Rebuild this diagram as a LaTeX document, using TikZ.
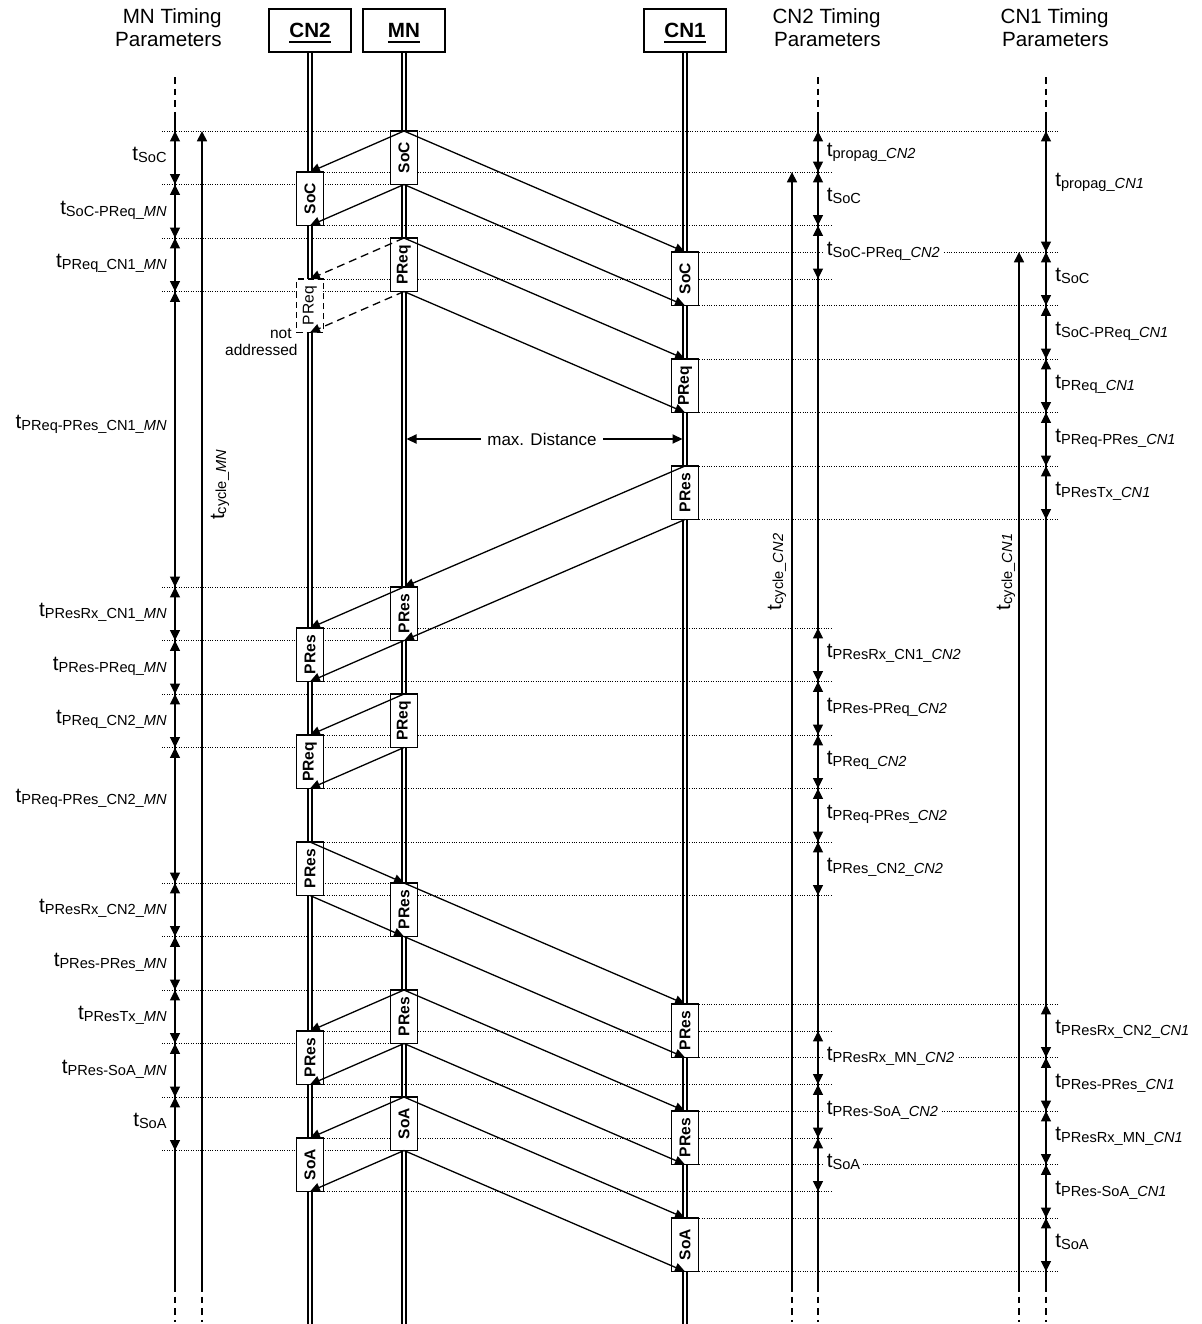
\documentclass[tikz,border=0pt]{standalone}
\usepackage{fontspec}
\usepackage{graphicx}
\setmainfont{Liberation Sans}
\usetikzlibrary{arrows.meta}

% time parameter: t with a smaller, slightly lowered subscript
\newcommand{\tsub}[1]{t\raisebox{-1pt}{\fontsize{7.3}{8}\selectfont#1}}
% header text with a heavy underline
\newcommand{\hdline}[1]{\setbox0=\hbox{#1}\rlap{\smash{\rule[-2.6pt]{\wd0}{1pt}}}\box0}

\begin{document}
\begin{tikzpicture}[
  x=0.5pt, y=-0.5pt,
  hdr/.style={draw, line width=1pt, minimum width=41pt, minimum height=21.5pt,
    inner sep=0pt, font=\fontsize{10.3}{12}\selectfont\bfseries},
  lifeline/.style={draw=black, line width=0.7pt, double=white, double distance=1.3pt},
  mbox/.style={draw, fill=white, line width=0.65pt, anchor=north, minimum width=13.4pt,
    minimum height=26.75pt, inner sep=0pt, outer sep=0pt,
    font=\fontsize{7.8}{8}\selectfont\bfseries},
  mboxd/.style={mbox, dash pattern=on 3pt off 2pt, font=\fontsize{7.8}{8}\selectfont},
  msg/.style={line width=0.65pt, -{Triangle[length=5pt,width=4.6pt]}},
  msgd/.style={msg, dash pattern=on 4pt off 2.5pt},
  guide/.style={line width=0.5pt, dash pattern=on 0.5pt off 0.7pt},
  tline/.style={line width=0.65pt},
  tdash/.style={line width=0.65pt, dash pattern=on 3.3pt off 2.5pt},
  tarr/.style={line width=0.65pt,
    {Triangle[length=5.2pt,width=5pt]}-{Triangle[length=5.2pt,width=5pt]}},
  cyc/.style={line width=0.85pt, -{Triangle[length=5.2pt,width=5pt]}},
  ttl/.style={align=right, inner sep=0pt, font=\fontsize{10.3}{11.8}\selectfont},
  labE/.style={anchor=base east, inner sep=1.5pt, font=\fontsize{10.3}{12}\selectfont},
  labW/.style={anchor=base west, fill=white, inner sep=1.5pt, font=\fontsize{10.3}{12}\selectfont},
  labR/.style={rotate=90, anchor=base, inner sep=1pt, font=\fontsize{10.3}{12}\selectfont},
]
\useasboundingbox (0,0) rectangle (1202,1324);

% ---------- column titles ----------
\node[ttl, anchor=north east] (ttlMN)  at (222,8)  {MN Timing\\Parameters};
\node[ttl, anchor=north east] (ttlCN2) at (881,8)  {CN2 Timing\\Parameters};
\node[ttl, anchor=north east] (ttlCN1) at (1109,8) {CN1 Timing\\Parameters};

% ---------- node headers and lifelines ----------
\node[hdr] (hCN2) at (310,30.5) {\hdline{CN2}};
\node[hdr] (hMN)  at (404,30.5) {\hdline{MN}};
\node[hdr] (hCN1) at (685,30.5) {\hdline{CN1}};
\coordinate (eCN2) at (310,1330);
\coordinate (eMN)  at (404,1330);
\coordinate (eCN1) at (685,1330);
\draw[lifeline] (hCN2.south) -- (eCN2);
\draw[lifeline] (hMN.south)  -- (eMN);
\draw[lifeline] (hCN1.south) -- (eCN1);

% ---------- dotted event lines ----------
\draw[guide] (162,131) -- (1058,131);
\foreach \y in {184.5,238,291.5,587,640.5,694,747.5,883,936.5,990,1043.5,1097,1150.5}
  \draw[guide] (162,\y) -- (404,\y);
\foreach \y in {172,225.5,279,628,681.5,735,788.5,842,895.5,1031,1084.5,1138,1191.5}
  \draw[guide] (310,\y) -- (832,\y);
\foreach \y in {252,305.5,359,412.5,466,519.5,1004,1057.5,1111,1164.5,1218,1271.5}
  \draw[guide] (685,\y) -- (1058,\y);

% ---------- MN timing column ----------
\foreach \n/\y in {0/131,1/184.5,2/238,3/291.5,4/587,5/640.5,6/694,7/747.5,
                   8/883,9/936.5,10/990,11/1043.5,12/1097,13/1150.5}
  \coordinate (m\n) at (175,\y);
\coordinate (mTop) at (175,77);  \coordinate (mSol) at (175,118);
\coordinate (mEnd) at (175,1285); \coordinate (mBot) at (175,1322);
\draw[tdash] (mTop) -- (mSol);
\draw[tline] (mSol) -- (mEnd);
\draw[tdash] (mEnd) -- (mBot);
\foreach \i in {0,...,12} {
  \pgfmathtruncatemacro{\j}{\i+1}
  \draw[tarr] (m\i) -- (m\j);
}

% ---------- CN2 timing column ----------
\foreach \n/\y in {0/131,1/172,2/225.5,3/279,4/628,5/681.5,6/735,7/788.5,8/842,
                   9/895.5,10/1031,11/1084.5,12/1138,13/1191.5}
  \coordinate (p\n) at (818,\y);
\coordinate (pTop) at (818,77);  \coordinate (pSol) at (818,118);
\coordinate (pEnd) at (818,1285); \coordinate (pBot) at (818,1322);
\draw[tdash] (pTop) -- (pSol);
\draw[tline] (pSol) -- (pEnd);
\draw[tdash] (pEnd) -- (pBot);
\foreach \i/\j in {0/1,1/2,2/3,4/5,5/6,6/7,7/8,8/9,10/11,11/12,12/13}
  \draw[tarr] (p\i) -- (p\j);

% ---------- CN1 timing column ----------
\foreach \n/\y in {0/131,1/252,2/305.5,3/359,4/412.5,5/466,6/519.5,7/1004,
                   8/1057.5,9/1111,10/1164.5,11/1218,12/1271.5}
  \coordinate (q\n) at (1046,\y);
\coordinate (qTop) at (1046,77);  \coordinate (qSol) at (1046,118);
\coordinate (qEnd) at (1046,1285); \coordinate (qBot) at (1046,1322);
\draw[tdash] (qTop) -- (qSol);
\draw[tline] (qSol) -- (qEnd);
\draw[tdash] (qEnd) -- (qBot);
\foreach \i/\j in {0/1,1/2,2/3,3/4,4/5,5/6,7/8,8/9,9/10,10/11,11/12}
  \draw[tarr] (q\i) -- (q\j);

% ---------- cycle time arrows ----------
\coordinate (cMNa) at (202,131);  \coordinate (cMNb) at (202,1285);  \coordinate (cMNc) at (202,1322);
\coordinate (cC2a) at (792,172);  \coordinate (cC2b) at (792,1285);  \coordinate (cC2c) at (792,1322);
\coordinate (cC1a) at (1019,252); \coordinate (cC1b) at (1019,1285); \coordinate (cC1c) at (1019,1322);
\draw[cyc] (cMNb) -- (cMNa);  \draw[tdash] (cMNb) -- (cMNc);
\draw[cyc] (cC2b) -- (cC2a);  \draw[tdash] (cC2b) -- (cC2c);
\draw[cyc] (cC1b) -- (cC1a);  \draw[tdash] (cC1b) -- (cC1c);

% ---------- frames on the lifelines ----------
% MN
\node[mbox] (mnSoC)  at (404,131)  {\rotatebox{90}{SoC}};
\node[mbox] (mnPReq) at (404,238)  {\rotatebox{90}{PReq}};
\node[mbox] (mnPResA) at (404,587) {\rotatebox{90}{PRes}};
\node[mbox] (mnPReqB) at (404,694) {\rotatebox{90}{PReq}};
\node[mbox] (mnPResB) at (404,883) {\rotatebox{90}{PRes}};
\node[mbox] (mnPResC) at (404,990) {\rotatebox{90}{PRes}};
\node[mbox] (mnSoA)  at (404,1097) {\rotatebox{90}{SoA}};
% CN2
\node[mbox]  (c2SoC)   at (310,172)  {\rotatebox{90}{SoC}};
\node[mboxd] (c2PReqX) at (310,279)  {\rotatebox{90}{PReq}};
\node[mbox]  (c2PResA) at (310,628)  {\rotatebox{90}{PRes}};
\node[mbox]  (c2PReqB) at (310,735)  {\rotatebox{90}{PReq}};
\node[mbox]  (c2PResB) at (310,842)  {\rotatebox{90}{PRes}};
\node[mbox]  (c2PResC) at (310,1031) {\rotatebox{90}{PRes}};
\node[mbox]  (c2SoA)   at (310,1138) {\rotatebox{90}{SoA}};
% CN1
\node[mbox] (c1SoC)   at (685,252)  {\rotatebox{90}{SoC}};
\node[mbox] (c1PReq)  at (685,359)  {\rotatebox{90}{PReq}};
\node[mbox] (c1PResA) at (685,466)  {\rotatebox{90}{PRes}};
\node[mbox] (c1PResB) at (685,1004) {\rotatebox{90}{PRes}};
\node[mbox] (c1PResC) at (685,1111) {\rotatebox{90}{PRes}};
\node[mbox] (c1SoA)   at (685,1218) {\rotatebox{90}{SoA}};

\node[align=right, anchor=north east, inner sep=0pt,
      font=\fontsize{7.75}{8.5}\selectfont] (notaddr) at (298,328.5) {not\kern3pt\\addressed};

% ---------- frame transmissions ----------
\foreach \a/\b in {mnSoC/c2SoC, mnSoC/c1SoC, mnPReq/c1PReq,
                   c1PResA/mnPResA, mnPResA/c2PResA, mnPReqB/c2PReqB,
                   c2PResB/mnPResB, mnPResB/c1PResB,
                   mnPResC/c2PResC, mnPResC/c1PResC,
                   mnSoA/c2SoA, mnSoA/c1SoA} {
  \draw[msg] (\a.north) -- (\b.north);
  \draw[msg] (\a.south) -- (\b.south);
}
\draw[msgd] (mnPReq.north) -- (c2PReqX.north);
\draw[msgd] (mnPReq.south) -- (c2PReqX.south);

% ---------- maximum distance ----------
\coordinate (mdL) at (406.5,439);
\coordinate (mdR) at (682.5,439);
\draw[line width=0.65pt, {Triangle[length=5pt,width=4.6pt]}-{Triangle[length=5pt,width=4.6pt]}] (mdL) -- (mdR);
\node[fill=white, inner xsep=3pt, inner ysep=1pt, font=\fontsize{8.5}{10}\selectfont] (mdlab) at (542,439) {max. Distance};

% ---------- MN parameters ----------
\node[labE] (lm1)  at (170,160.75)  {\tsub{SoC}};
\node[labE] (lm2)  at (170,214.25)  {\tsub{SoC-PReq\_\textit{MN}}};
\node[labE] (lm3)  at (170,267.75)  {\tsub{PReq\_CN1\_\textit{MN}}};
\node[labE] (lm4)  at (170,428)     {\tsub{PReq-PRes\_CN1\_\textit{MN}}};
\node[labE] (lm5)  at (170,616.75)  {\tsub{PResRx\_CN1\_\textit{MN}}};
\node[labE] (lm6)  at (170,670.25)  {\tsub{PRes-PReq\_\textit{MN}}};
\node[labE] (lm7)  at (170,723.75)  {\tsub{PReq\_CN2\_\textit{MN}}};
\node[labE] (lm8)  at (170,802)     {\tsub{PReq-PRes\_CN2\_\textit{MN}}};
\node[labE] (lm9)  at (170,912.75)  {\tsub{PResRx\_CN2\_\textit{MN}}};
\node[labE] (lm10) at (170,966.25)  {\tsub{PRes-PRes\_\textit{MN}}};
\node[labE] (lm11) at (170,1019.75) {\tsub{PResTx\_\textit{MN}}};
\node[labE] (lm12) at (170,1073.25) {\tsub{PRes-SoA\_\textit{MN}}};
\node[labE] (lm13) at (170,1126.75) {\tsub{SoA}};

% ---------- CN2 parameters ----------
\node[labW] (lp1)  at (823.5,156.5)   {\tsub{propag\_\textit{CN2}}};
\node[labW] (lp2)  at (823.5,201.75)  {\tsub{SoC}};
\node[labW] (lp3)  at (823.5,255.25)  {\tsub{SoC-PReq\_\textit{CN2}}};
\node[labW] (lp4)  at (823.5,657.75)  {\tsub{PResRx\_CN1\_\textit{CN2}}};
\node[labW] (lp5)  at (823.5,711.25)  {\tsub{PRes-PReq\_\textit{CN2}}};
\node[labW] (lp6)  at (823.5,764.75)  {\tsub{PReq\_\textit{CN2}}};
\node[labW] (lp7)  at (823.5,818.25)  {\tsub{PReq-PRes\_\textit{CN2}}};
\node[labW] (lp8)  at (823.5,871.75)  {\tsub{PRes\_CN2\_\textit{CN2}}};
\node[labW] (lp9)  at (823.5,1060.75) {\tsub{PResRx\_MN\_\textit{CN2}}};
\node[labW] (lp10) at (823.5,1114.25) {\tsub{PRes-SoA\_\textit{CN2}}};
\node[labW] (lp11) at (823.5,1167.75) {\tsub{SoA}};

% ---------- CN1 parameters ----------
\node[labW] (lq1)  at (1052,186)     {\tsub{propag\_\textit{CN1}}};
\node[labW] (lq2)  at (1052,281.75)  {\tsub{SoC}};
\node[labW] (lq3)  at (1052,335.25)  {\tsub{SoC-PReq\_\textit{CN1}}};
\node[labW] (lq4)  at (1052,388.75)  {\tsub{PReq\_\textit{CN1}}};
\node[labW] (lq5)  at (1052,442.25)  {\tsub{PReq-PRes\_\textit{CN1}}};
\node[labW] (lq6)  at (1052,495.75)  {\tsub{PResTx\_\textit{CN1}}};
\node[labW] (lq7)  at (1052,1033.75) {\tsub{PResRx\_CN2\_\textit{CN1}}};
\node[labW] (lq8)  at (1052,1087.25) {\tsub{PRes-PRes\_\textit{CN1}}};
\node[labW] (lq9)  at (1052,1140.75) {\tsub{PResRx\_MN\_\textit{CN1}}};
\node[labW] (lq10) at (1052,1194.25) {\tsub{PRes-SoA\_\textit{CN1}}};
\node[labW] (lq11) at (1052,1247.75) {\tsub{SoA}};

% ---------- cycle time labels ----------
\node[labR] (lcMN) at (224,485)  {\tsub{cycle\_\textit{MN}}};
\node[labR] (lcC2) at (781,572)  {\tsub{cycle\_\textit{CN2}}};
\node[labR] (lcC1) at (1010,572) {\tsub{cycle\_\textit{CN1}}};
\end{tikzpicture}
\end{document}
